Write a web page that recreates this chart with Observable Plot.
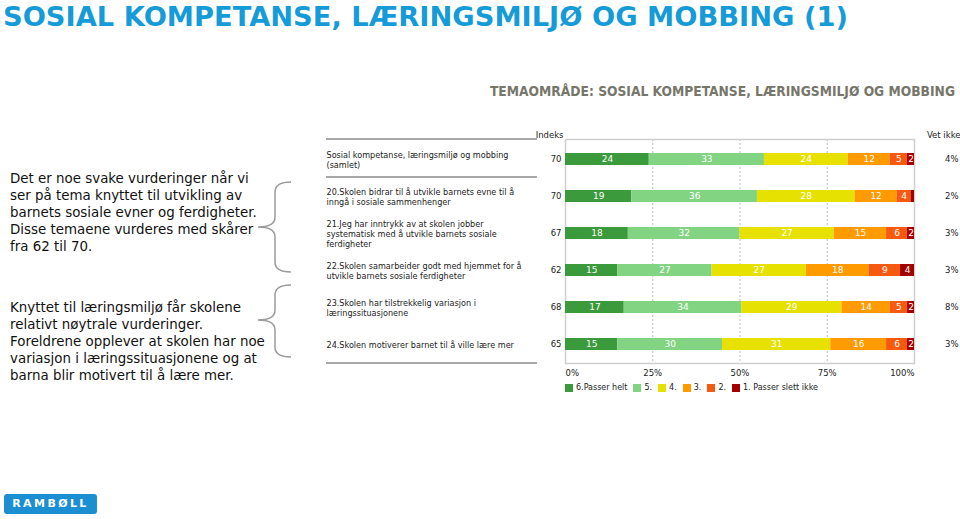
<!DOCTYPE html>
<html>
<head>
<meta charset="utf-8">
<script src="https://cdn.jsdelivr.net/npm/d3@7"></script>
<script src="https://cdn.jsdelivr.net/npm/@observablehq/plot@0.6"></script>
<style>
  html, body { margin: 0; padding: 0; background: #fff; }
  #page { position: relative; width: 960px; height: 519px; overflow: hidden; font-family: "DejaVu Sans", Verdana, sans-serif; }
  #title { position: absolute; left: 3px; top: 3px; font-family: "DejaVu Sans", Verdana, sans-serif; font-weight: bold; font-size: 27.3px; line-height: 28px; color: #159bd8; white-space: nowrap; }
  #subtitle { position: absolute; right: 5px; top: 83px; font-family: "DejaVu Sans Condensed", "DejaVu Sans", sans-serif; font-stretch: condensed; font-weight: bold; font-size: 13.7px; color: #76766a; white-space: nowrap; }
  .para { position: absolute; left: 10px; font-size: 13.4px; line-height: 17px; color: #111; white-space: nowrap; }
  .sep { position: absolute; left: 326px; width: 211px; height: 2px; background: #a8a8a8; }
  #chart { position: absolute; left: 320px; top: 120px; }
  #legend { position: absolute; left: 565px; top: 383px; font-size: 8px; color: #222; display: flex; align-items: center; white-space: nowrap; }
  #legend .sw { display: inline-block; width: 8px; height: 8px; margin-right: 3px; }
  #legend .it { display: inline-flex; align-items: center; margin-right: 6px; }
  #logo { position: absolute; left: 4px; top: 494px; width: 93px; height: 20px; background: #1b8fd2; border-radius: 3px; color: #fff; font-weight: bold; font-size: 11px; letter-spacing: 2.4px; text-align: center; line-height: 20px; }
  #braces { position: absolute; left: 0; top: 0; }
</style>
</head>
<body>
<div id="page">
  <div id="title">SOSIAL KOMPETANSE, LÆRINGSMILJØ OG MOBBING (1)</div>
  <div id="subtitle">TEMAOMRÅDE: SOSIAL KOMPETANSE, LÆRINGSMILJØ OG MOBBING</div>
  <div class="para" style="top:170px">Det er noe svake vurderinger når vi<br>ser på tema knyttet til utvikling av<br>barnets sosiale evner og ferdigheter.<br>Disse temaene vurderes med skårer<br>fra 62 til 70.</div>
  <div class="para" style="top:299px">Knyttet til læringsmiljø får skolene<br>relativt nøytrale vurderinger.<br>Foreldrene opplever at skolen har noe<br>variasjon i læringssituasjonene og at<br>barna blir motivert til å lære mer.</div>
  <svg id="braces" width="320" height="400">
    <path d="M291 182 Q275 182 275 192 L275 217 Q275 227 258 227 Q275 227 275 237 L275 262 Q275 272 291 272" fill="none" stroke="#9a9a9a" stroke-width="1.5"/>
    <path d="M291 285 Q275 285 275 295 L275 310 Q275 320 258 320 Q275 320 275 330 L275 347 Q275 357 291 357" fill="none" stroke="#9a9a9a" stroke-width="1.5"/>
  </svg>
  <div class="sep" style="top:138px"></div>
  <div class="sep" style="top:176px"></div>
  <div class="sep" style="top:362px"></div>
  <div id="chart"></div>
  <div id="legend"></div>
  <div id="logo">RAMBØLL</div>
</div>
<script>
const questions = [
  "Sosial kompetanse, læringsmiljø og mobbing\n(samlet)",
  "20.Skolen bidrar til å utvikle barnets evne til å\ninngå i sosiale sammenhenger",
  "21.Jeg har inntrykk av at skolen jobber\nsystematisk med å utvikle barnets sosiale\nferdigheter",
  "22.Skolen samarbeider godt med hjemmet for å\nutvikle barnets sosiale ferdigheter",
  "23.Skolen har tilstrekkelig variasjon i\nlæringssituasjonene",
  "24.Skolen motiverer barnet til å ville lære mer"
];
const categories = ["6.Passer helt", "5.", "4.", "3.", "2.", "1. Passer slett ikke"];
const colors = ["#3b9a3b", "#82d482", "#e6e100", "#ff9a00", "#f65a10", "#a30000"];
const indeks = [70, 70, 67, 62, 68, 65];
const vetIkke = [4, 2, 3, 3, 8, 3];
const s6 = [24, 19, 18, 15, 17, 15];
const s5 = [33, 36, 32, 27, 34, 30];
const s4 = [24, 28, 27, 27, 29, 31];
const s3 = [12, 12, 15, 18, 14, 16];
const s2 = [5, 4, 6, 9, 5, 6];
const s1 = [2, 1, 2, 4, 2, 2];
const xTicks = [0, 0.25, 0.5, 0.75, 1];

const series = [s6, s5, s4, s3, s2, s1];
const tidy = [];
questions.forEach((q, i) => {
  series.forEach((s, j) => tidy.push({q, cat: categories[j], value: s[i]}));
});
const rows = questions.map((q, i) => ({q, indeks: indeks[i], vet: vetIkke[i]}));
const pct = d3.format(".0%");

const chart = Plot.plot({
  width: 640,
  height: 280,
  marginLeft: 245,
  marginRight: 46,
  marginTop: 19,
  marginBottom: 37,
  style: {fontFamily: "DejaVu Sans, Verdana, sans-serif", fontSize: "8.1px", color: "#222", background: "transparent", overflow: "visible"},
  x: {domain: [0, 1], axis: null},
  y: {domain: questions, paddingInner: 0.68, paddingOuter: 0.34, axis: null},
  color: {domain: categories, range: colors},
  marks: [
    Plot.gridX(xTicks.slice(1, 4), {stroke: "#bdbdbd", strokeOpacity: 1, strokeDasharray: "2,2"}),
    Plot.frame({stroke: "#cfcfcf", strokeWidth: 1.5}),
    Plot.barX(tidy, Plot.stackX({x: "value", y: "q", fill: "cat", offset: "normalize"})),
    Plot.text(tidy, Plot.stackX({x: "value", y: "q", z: "cat", offset: "normalize",
      text: d => d.value > 1 ? String(d.value) : "", fill: "white", fontSize: 9})),
    Plot.text(rows, {y: "q", text: "q", frameAnchor: "left", textAnchor: "start", dx: -239, lineHeight: 1.25, fill: "#222"}),
    Plot.text(rows, {y: "q", text: d => String(d.indeks), frameAnchor: "left", textAnchor: "end", dx: -4, fontSize: 8.5, fill: "#222"}),
    Plot.text(rows, {y: "q", text: d => d.vet + "%", frameAnchor: "right", textAnchor: "end", dx: 44, fontSize: 8.5, fill: "#222"}),
    Plot.text(["Indeks"], {frameAnchor: "top-left", textAnchor: "end", dx: -2, dy: -8, fontSize: 8.5, fill: "#222"}),
    Plot.text(["Vet ikke"], {frameAnchor: "top-right", textAnchor: "end", dx: 46, dy: -8, fontSize: 8.5, fill: "#222"}),
    Plot.axisX([xTicks[0]], {tickSize: 0, tickPadding: 6, tickFormat: pct, textAnchor: "start", label: null, fontSize: 8.5}),
    Plot.axisX(xTicks.slice(1, 4), {tickSize: 0, tickPadding: 6, tickFormat: pct, label: null, fontSize: 8.5}),
    Plot.axisX([xTicks[4]], {tickSize: 0, tickPadding: 6, tickFormat: pct, textAnchor: "end", label: null, fontSize: 8.5})
  ]
});
document.getElementById("chart").appendChild(chart);

const legend = d3.select("#legend");
categories.forEach((c, i) => {
  const it = legend.append("span").attr("class", "it");
  it.append("span").attr("class", "sw").style("background", colors[i]);
  it.append("span").text(c);
});
</script>
</body>
</html>
